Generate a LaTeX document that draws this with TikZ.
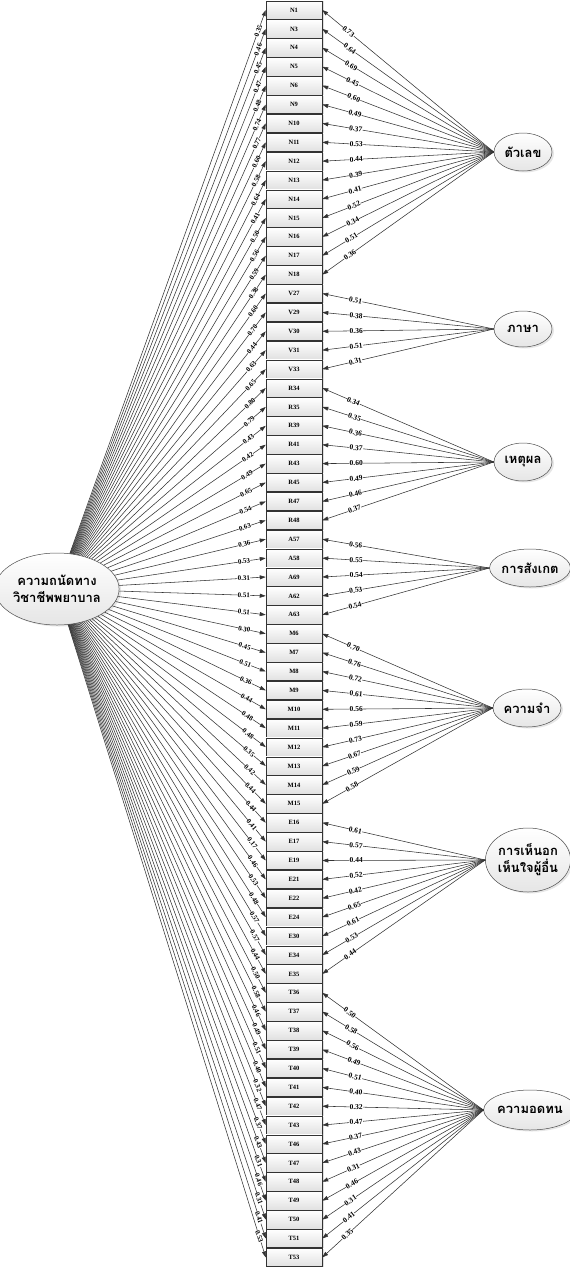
\documentclass[tikz,border=0pt]{standalone}
\usepackage{fontspec}
\setmainfont{Liberation Serif}
\newfontfamily\thaifont[Script=Thai]{Loma}
\usetikzlibrary{calc,arrows.meta,shadows,shapes.geometric}
\tikzset{
  obs/.style={draw=black!80, line width=0.5pt, minimum width=56pt, minimum height=18.4pt,
    inner sep=0pt, top color=white, bottom color=black!12,
    font=\bfseries\fontsize{6.5}{7}\selectfont,
    drop shadow={shadow xshift=2.2pt, shadow yshift=-0.6pt, opacity=0.25}},
  lat/.style={ellipse, draw=black!70, line width=0.5pt, inner sep=0pt, align=center,
    top color=white, bottom color=black!10,
    font=\thaifont\bfseries\fontsize{13}{17}\selectfont,
    drop shadow={shadow xshift=2pt, shadow yshift=-1.5pt, opacity=0.2}},
  arr/.style={draw=black!80, line width=0.55pt, -{Triangle[length=6pt,width=4pt]}},
  lbl/.style={font=\bfseries\fontsize{7.5}{8}\selectfont, fill=white, inner sep=0.3pt, sloped},
  lbll/.style={font=\bfseries\fontsize{7}{8}\selectfont, fill=white, inner sep=0.2pt, sloped}
}
\def\items{N1/F1/0.73/0.35, N3/F1/0.64/0.46, N4/F1/0.69/0.45, N5/F1/0.45/0.47,
N6/F1/0.60/0.48, N9/F1/0.49/0.74, N10/F1/0.37/0.77, N11/F1/0.53/0.60,
N12/F1/0.44/0.58, N13/F1/0.39/0.64, N14/F1/0.41/0.41, N15/F1/0.52/0.50,
N16/F1/0.34/0.56, N17/F1/0.51/0.59, N18/F1/0.36/0.38,
V27/F2/0.51/0.60, V29/F2/0.38/0.70, V30/F2/0.36/0.44, V31/F2/0.51/0.63, V33/F2/0.31/0.65,
R34/F3/0.34/0.80, R35/F3/0.35/0.79, R39/F3/0.36/0.43, R41/F3/0.37/0.42,
R43/F3/0.60/0.49, R45/F3/0.49/0.65, R47/F3/0.46/0.54, R48/F3/0.37/0.63,
A57/F4/0.56/0.36, A58/F4/0.55/0.53, A69/F4/0.54/0.31, A62/F4/0.53/0.51, A63/F4/0.54/0.51,
M6/F5/0.70/0.30, M7/F5/0.76/0.45, M8/F5/0.72/0.51, M9/F5/0.61/0.36, M10/F5/0.56/0.44,
M11/F5/0.59/0.48, M12/F5/0.73/0.48, M13/F5/0.67/0.35, M14/F5/0.59/0.42, M15/F5/0.58/0.44,
E16/F6/0.61/0.44, E17/F6/0.57/0.41, E19/F6/0.44/0.17, E21/F6/0.52/0.46, E22/F6/0.42/0.53,
E24/F6/0.65/0.48, E30/F6/0.61/0.57, E34/F6/0.53/0.57, E35/F6/0.44/0.44,
T36/F7/0.50/0.50, T37/F7/0.58/0.58, T38/F7/0.56/0.46, T39/F7/0.49/0.49, T40/F7/0.51/0.51,
T41/F7/0.40/0.40, T42/F7/0.32/0.32, T43/F7/0.47/0.47, T46/F7/0.37/0.37, T47/F7/0.43/0.43,
T48/F7/0.31/0.31, T49/F7/0.46/0.46, T50/F7/0.31/0.31, T51/F7/0.41/0.41, T53/F7/0.35/0.53}
\begin{document}
\begin{tikzpicture}[x=1pt,y=-1pt]
\useasboundingbox (0,0) rectangle (570,1269);
% observed variables
\foreach \n/\f/\r/\l [count=\i from 0] in \items {
  \node[obs] (\n) at (294,{10+\i*18.9}) {\n};
}
% latent variables
\node[lat, minimum width=108pt, minimum height=72pt] (L) at (57,589) {ความถนัดทาง\\วิชาชีพพยาบาล};
\node[lat, minimum width=58pt, minimum height=38pt] (F1) at (523,152) {ตัวเลข};
\node[lat, minimum width=58pt, minimum height=36pt] (F2) at (523,329) {ภาษา};
\node[lat, minimum width=58pt, minimum height=38pt] (F3) at (523,462) {เหตุผล};
\node[lat, minimum width=70pt, minimum height=38pt] (F4) at (530,568) {การสังเกต};
\node[lat, minimum width=68pt, minimum height=38pt] (F5) at (527,708) {ความจำ};
\node[lat, minimum width=80pt, minimum height=64pt] (F6) at (528,860) {การเห็นอก\\เห็นใจผู้อื่น};
\node[lat, minimum width=78pt, minimum height=40pt] (F7) at (530,1110) {ความอดทน};
% connectors
\foreach \n/\f/\r/\l [count=\i from 0] in \items {
  \draw[arr] (L) -- (\n.west);
  \draw[arr] (\f.west) -- (\n.east);
}
% loadings
\foreach \n/\f/\r/\l [count=\i from 0] in \items {
  \path (\n.east) -- ($(\n.east)!34pt!(\f.west)$) node[lbl,pos=1] {\r};
  \path (\n.west) -- ($(\n.west)!22pt!(L.center)$) node[lbll,pos=1] {\l};
}
\end{tikzpicture}
\end{document}
